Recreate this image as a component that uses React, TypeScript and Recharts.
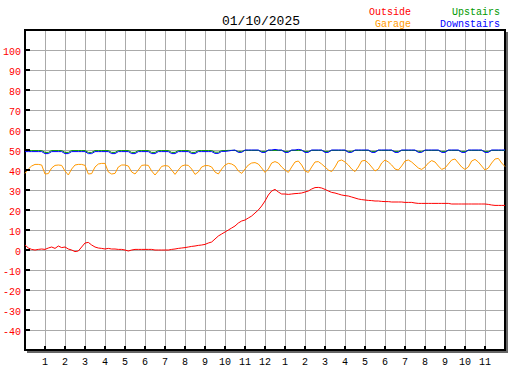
import { LineChart, Line, XAxis, YAxis, CartesianGrid, ReferenceArea } from "recharts";

const TITLE = "01/10/2025";
const STEP_MIN = 10;

const X_TICKS = [1, 2, 3, 4, 5, 6, 7, 8, 9, 10, 11, 12, 13, 14, 15, 16, 17, 18, 19, 20, 21, 22, 23];
const X_TICK_LABELS = ["1", "2", "3", "4", "5", "6", "7", "8", "9", "10", "11", "12", "1", "2", "3", "4", "5", "6", "7", "8", "9", "10", "11"];
const Y_TICKS = [-40, -30, -20, -10, 0, 10, 20, 30, 40, 50, 60, 70, 80, 90, 100];

// one row per hour, 10 minute samples
const outside = [
  2.5, 1, 0.3, 0, 0.3, 0.5,
  0.3, 1, 1.5, 0.8, 2, 1.2,
  1.5, 0.5, 0, -0.8, -0.5, 1.5,
  3.5, 3.8, 2.5, 1.5, 1, 0.8,
  0.5, 0.8, 0.5, 0.5, 0.3, 0.3,
  0, -0.5, 0, 0.3, 0.3, 0.3,
  0.3, 0.3, 0.3, 0, 0, 0,
  0, 0, 0.3, 0.5, 0.8, 1,
  1.2, 1.5, 1.8, 2, 2.3, 2.5,
  2.8, 3.5, 4, 5.5, 7, 8,
  9, 10, 11, 12, 13.5, 14.5,
  15, 16, 17, 18.5, 20, 22,
  24.5, 27.5, 29.5, 30.3, 29, 28,
  28, 27.8, 28, 28.2, 28.3, 28.5,
  29, 29.5, 30.5, 31.2, 31.3, 31,
  30.3, 29.5, 28.8, 28.5, 28, 27.5,
  27.2, 27, 26.5, 26, 25.5, 25.2,
  25, 24.8, 24.7, 24.5, 24.5, 24.3,
  24.2, 24.2, 24, 24, 24, 24,
  23.8, 23.8, 23.8, 23.5, 23.3, 23.3,
  23.3, 23.3, 23.3, 23.3, 23.3, 23.3,
  23.3, 23.3, 23, 23, 23, 23,
  23, 23, 23, 23, 23, 23,
  23, 22.8, 22.5, 22.3, 22.3, 22.3,
  22.3,
];

const garage = [
  38.3, 40.5, 42, 42.8, 42.8, 42.5,
  38, 38.2, 41, 42.3, 42.5, 42.3,
  39.5, 37.5, 40.5, 42.5, 42.8, 42.8,
  42.3, 38, 38.2, 41.5, 43, 43.3,
  43.3, 39, 38, 38.3, 41.5, 42.5,
  42.5, 42, 39, 38, 40, 42.3,
  42.5, 42.3, 39.5, 37.5, 39.5, 41.8,
  42.2, 42, 40, 37.8, 40, 42,
  42.5, 42.3, 40.5, 37.8, 39, 41.5,
  42.2, 42.2, 41.5, 39, 38, 40.5,
  42.5, 43.3, 43, 42, 39.5, 38.3,
  40.5, 42.5, 43.5, 43.7, 43, 41,
  38.8, 40.5, 43.5, 44.2, 43.5, 41.5,
  40, 38.8, 41.5, 44, 44.5, 42.5,
  39.5, 38.8, 41.5, 44, 44.2, 43,
  41.5, 40, 39.2, 41.5, 44.5, 45,
  44, 42.5, 40.5, 39.2, 41.5, 44.5,
  44.8, 43.5, 41.5, 39.5, 40.5, 43.5,
  45, 44, 42.5, 40.5, 40, 42,
  44.5, 45, 44, 42.5, 41, 40.3,
  41.5, 43.5, 44.7, 44, 42, 40.3,
  41, 43, 45, 45.5, 43.5, 41.5,
  40.3, 41.5, 44.5, 45.3, 44, 42,
  40, 41, 43.5, 45.5, 45.8, 43.5,
  41.7,
];

const upstairs = [
  49.7, 49.7, 49.7, 49.7, 49.7, 49.7,
  48.8, 48.8, 49.7, 49.7, 49.7, 49.7,
  48.8, 48.8, 49.7, 49.7, 49.7, 49.7,
  49.7, 48.8, 48.8, 49.7, 49.7, 49.7,
  49.7, 49.7, 48.8, 48.8, 49.7, 49.7,
  49.7, 49.7, 48.8, 48.8, 49.7, 49.7,
  49.7, 49.7, 48.8, 48.8, 49.7, 49.7,
  49.7, 49.7, 48.8, 48.8, 49.7, 49.7,
  49.7, 49.7, 48.8, 48.8, 49.7, 49.7,
  49.7, 49.7, 49.7, 48.9, 48.9, 49.7,
  49.7, 49.8, 49.8, 49.8, 49.2, 49.2,
  49.8, 49.8, 49.8, 49.8, 49.8, 49.2,
  49.2, 49.8, 49.8, 49.8, 49.8, 49.8,
  49.2, 49.2, 49.8, 49.8, 49.8, 49.8,
  49.2, 49.2, 49.8, 49.8, 49.8, 49.8,
  49.2, 49.2, 49.8, 49.8, 49.8, 49.8,
  49.8, 49.2, 49.2, 49.8, 49.8, 49.8,
  49.8, 49.8, 49.2, 49.2, 49.8, 49.8,
  49.8, 49.8, 49.8, 49.2, 49.2, 49.8,
  49.8, 49.8, 49.8, 49.8, 49.2, 49.2,
  49.8, 49.8, 49.8, 49.8, 49.8, 49.2,
  49.2, 49.8, 49.8, 49.8, 49.8, 49.2,
  49.2, 49.8, 49.8, 49.8, 49.8, 49.8,
  49.2, 49.2, 49.8, 49.8, 49.8, 49.8,
  49.8,
];

const downstairs = [
  49.2, 49.2, 49.2, 49.2, 49.2, 49.2,
  48.2, 48.2, 49.2, 49.2, 49.2, 49.2,
  48.2, 48.2, 49.2, 49.2, 49.2, 49.2,
  49.2, 48.2, 48.2, 49.2, 49.2, 49.2,
  49.2, 49.2, 48.2, 48.2, 49.2, 49.2,
  49.2, 49.2, 48.2, 48.2, 49.2, 49.2,
  49.2, 49.2, 48.2, 48.2, 49.2, 49.2,
  49.2, 49.2, 48.2, 48.2, 49.2, 49.2,
  49.2, 49.2, 48.2, 48.2, 49.2, 49.2,
  49.2, 49.2, 49.2, 48.3, 48.3, 49.3,
  49.3, 49.5, 49.8, 50, 48.8, 48.8,
  50, 50, 50, 50, 50, 48.8,
  48.8, 50, 50, 50.3, 50, 50,
  48.8, 48.8, 50, 50, 50.3, 50,
  48.8, 48.8, 50, 50, 50, 50,
  48.8, 48.8, 50, 50, 50, 50,
  50, 48.8, 48.8, 50, 50, 50,
  50, 50, 48.8, 48.8, 50, 50,
  50, 50, 50, 48.8, 48.8, 50,
  50, 50, 50, 50, 48.8, 48.8,
  50, 50, 50, 50, 50, 48.8,
  48.8, 50, 50, 50, 50, 48.8,
  48.8, 50, 50, 50, 50, 50,
  48.8, 48.8, 50, 50, 50, 50,
  50,
];

const SERIES = [
  { key: "outside", name: "Outside", color: "#ff0000" },
  { key: "garage", name: "Garage", color: "#ff9900" },
  { key: "upstairs", name: "Upstairs", color: "#009900" },
  { key: "downstairs", name: "Downstairs", color: "#0000ff" },
];

const data = outside.map((v, i) => ({
  t: (i * STEP_MIN) / 60,
  outside: v,
  garage: garage[i],
  upstairs: upstairs[i],
  downstairs: downstairs[i],
}));

const FONT = "'Liberation Mono', 'DejaVu Sans Mono', monospace";
const W = 527;
const H = 370;

const YTick = (props: any) => {
  const { x, y, payload } = props;
  return (
    <g>
      <line x1={x + 4} x2={x + 9} y1={y} y2={y} stroke="#000" strokeWidth={2} shapeRendering="crispEdges" />
      <text x={x} y={y + 4.5} textAnchor="end" fill="#ff0000" fontSize={10} fontFamily={FONT}>
        {payload.value}
      </text>
    </g>
  );
};

const XTick = (props: any) => {
  const { x, y, payload } = props;
  const idx = X_TICKS.indexOf(payload.value);
  return (
    <g>
      <line x1={x} x2={x} y1={y} y2={y - 4} stroke="#000" strokeWidth={2} shapeRendering="crispEdges" />
      <text x={x} y={y + 14.5} textAnchor="middle" fill="#000" fontSize={10} fontFamily={FONT}>
        {X_TICK_LABELS[idx]}
      </text>
    </g>
  );
};

const Frame = (props: any) => {
  const { x, y, width, height } = props;
  return (
    <g shapeRendering="crispEdges">
      <line x1={x + width + 1.5} x2={x + width + 1.5} y1={y + 2} y2={y + height + 2.5} stroke="#666" strokeWidth={2} />
      <line x1={x + 2} x2={x + width + 2.5} y1={y + height + 1.5} y2={y + height + 1.5} stroke="#666" strokeWidth={2} />
      <rect x={x} y={y} width={width} height={height} fill="none" stroke="#000" strokeWidth={1.5} />
    </g>
  );
};

export default function App() {
  return (
    <div style={{ position: "absolute", left: 0, top: 0, width: W, height: H, background: "#fff" }}>
      <LineChart width={W} height={H} data={data} margin={{ top: 30, right: 22, bottom: 0, left: 0 }}>
        <CartesianGrid stroke="#aaaaaa" strokeWidth={1} shapeRendering="crispEdges" />
        <XAxis
          dataKey="t"
          type="number"
          domain={[0, 24]}
          ticks={X_TICKS}
          interval={0}
          height={20}
          axisLine={false}
          tickLine={false}
          tickSize={0}
          tickMargin={0}
          tick={<XTick />}
        />
        <YAxis
          type="number"
          domain={[-50, 110]}
          ticks={Y_TICKS}
          interval={0}
          width={25}
          axisLine={false}
          tickLine={false}
          tickSize={0}
          tickMargin={4}
          tick={<YTick />}
        />
        {SERIES.map((s) => (
          <Line
            key={s.key}
            type="linear"
            dataKey={s.key}
            name={s.name}
            stroke={s.color}
            strokeWidth={1}
            dot={false}
            isAnimationActive={false}
          />
        ))}
        <ReferenceArea x1={0} x2={24} y1={-50} y2={110} shape={<Frame />} />
      </LineChart>
      <svg width={W} height={H} style={{ position: "absolute", left: 0, top: 0, pointerEvents: "none" }}>
        <text x={261} y={25} textAnchor="middle" fontSize={13} fontFamily={FONT} fill="#000">
          {TITLE}
        </text>
        <text x={411} y={15} textAnchor="end" fontSize={10} fontFamily={FONT} fill={SERIES[0].color}>
          {SERIES[0].name}
        </text>
        <text x={411} y={26.5} textAnchor="end" fontSize={10} fontFamily={FONT} fill={SERIES[1].color}>
          {SERIES[1].name}
        </text>
        <text x={500} y={15} textAnchor="end" fontSize={10} fontFamily={FONT} fill={SERIES[2].color}>
          {SERIES[2].name}
        </text>
        <text x={500} y={26.5} textAnchor="end" fontSize={10} fontFamily={FONT} fill={SERIES[3].color}>
          {SERIES[3].name}
        </text>
      </svg>
    </div>
  );
}
